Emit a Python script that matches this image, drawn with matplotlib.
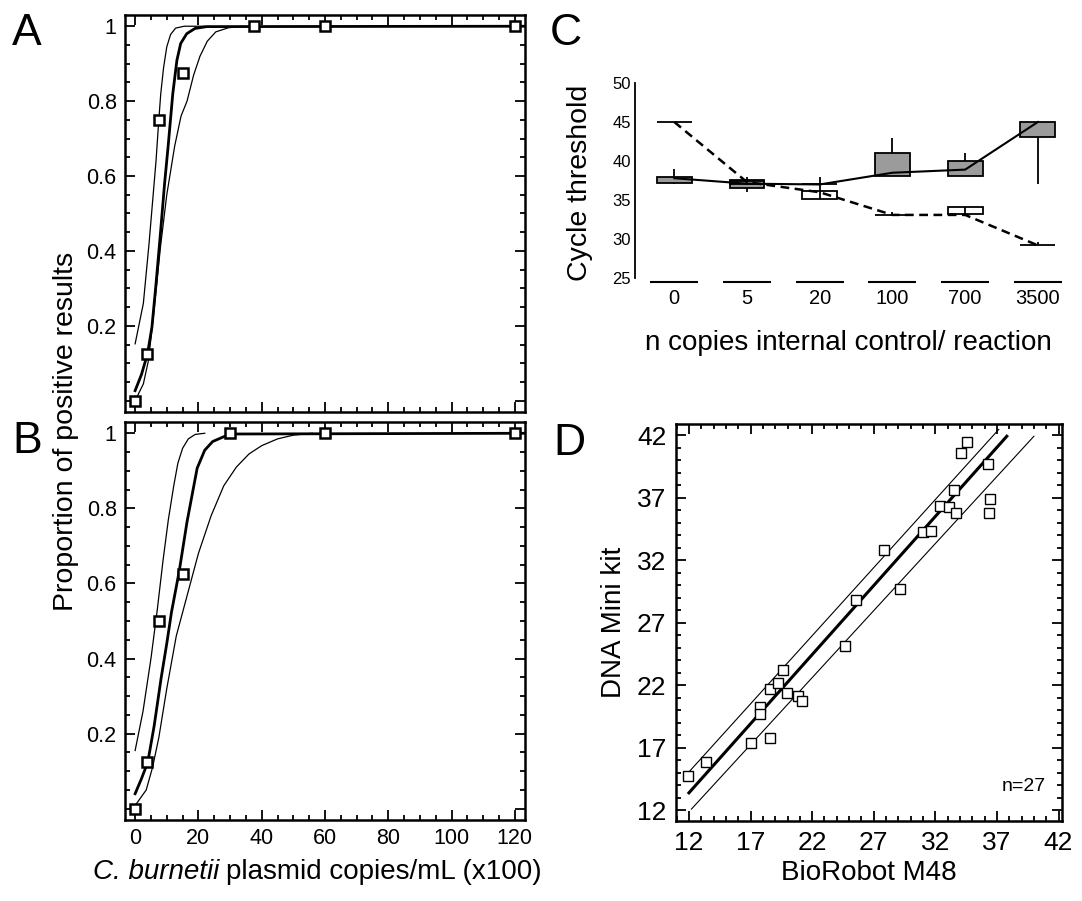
import matplotlib.pyplot as plt
import numpy as np
from matplotlib.ticker import MultipleLocator, FixedLocator, FixedFormatter

plt.rcParams['font.family'] = ['Liberation Sans', 'DejaVu Sans']

W, H = 1082, 901

# ---- panel A / B : proportion of positive results (probit fits)
a_dose = [0, 3.75, 7.5, 15, 37.5, 60, 120]
a_prop = [0, 0.125, 0.75, 0.875, 1, 1, 1]
a_mid_x = [0, 2, 3.9, 5.3, 6.6, 7.9, 9.3, 10.5, 11.9, 13.2, 14.4, 16.3, 18.9, 22.6, 124]
a_mid_y = [0.027, 0.07, 0.125, 0.196, 0.312, 0.437, 0.579, 0.686, 0.82, 0.909, 0.954, 0.98, 0.994, 0.999, 1.0]
a_up_x = [0, 2.6, 4.4, 5.6, 6.6, 7.4, 8.1, 9.0, 10.0, 11.2, 12.8, 15.5, 22]
a_up_y = [0.152, 0.26, 0.42, 0.54, 0.64, 0.74, 0.82, 0.89, 0.945, 0.978, 0.995, 1.0, 1.0]
a_lo_x = [0.5, 2.6, 4.2, 5.9, 8.0, 10.0, 12.5, 14.5, 16.4, 18.5, 20.5, 22.8, 25.5, 29.5, 34]
a_lo_y = [0.009, 0.045, 0.107, 0.235, 0.41, 0.55, 0.68, 0.76, 0.8, 0.87, 0.92, 0.96, 0.985, 0.996, 1.0]

b_dose = [0, 3.75, 7.5, 15, 30, 60, 120]
b_prop = [0, 0.125, 0.5, 0.625, 1, 1, 1]
b_mid_x = [0, 2, 4.0, 6.0, 8.2, 10.0, 11.5, 13.9, 16.4, 19.6, 22.0, 24.5, 30, 124]
b_mid_y = [0.04, 0.08, 0.124, 0.22, 0.347, 0.44, 0.524, 0.631, 0.764, 0.907, 0.955, 0.978, 0.998, 1.0]
b_up_x = [0, 2.5, 5.0, 7.0, 8.8, 10.5, 12.2, 13.5, 15.0, 16.8, 19.0, 22]
b_up_y = [0.155, 0.26, 0.40, 0.53, 0.66, 0.77, 0.86, 0.92, 0.96, 0.985, 0.997, 1.0]
b_lo_x = [0.3, 3.5, 5.5, 7.5, 10.0, 13.0, 16.5, 20.0, 24.0, 28.0, 32.0, 36.0, 40.0, 45.0, 50.0, 56.0]
b_lo_y = [0.012, 0.05, 0.11, 0.19, 0.32, 0.46, 0.57, 0.68, 0.78, 0.86, 0.91, 0.945, 0.967, 0.985, 0.995, 1.0]

# ---- panel C : cycle threshold box plots
c_cats = ['0', '5', '20', '100', '700', '3500']
grey_q1 = [37.15, 36.6, 37.0, 38.05, 38.05, 43.1]
grey_q3 = [38.0, 37.55, 37.0, 41.05, 40.0, 45.0]
grey_lo = [37.0, 36.05, 37.0, 38.05, 38.05, 37.0]
grey_hi = [39.0, 37.9, 37.0, 43.0, 41.0, 45.0]
grey_med = [37.8, 37.1, 37.0, 38.5, 38.9, 45.0]
white_q1 = [45.0, 37.0, 35.2, 33.1, 33.2, 29.2]
white_q3 = [45.0, 37.5, 36.2, 33.1, 34.15, 29.2]
white_lo = [45.0, 37.0, 35.2, 33.1, 33.2, 29.2]
white_hi = [45.0, 37.5, 37.9, 33.5, 34.15, 29.6]
white_med = [45.0, 37.3, 36.0, 33.1, 33.1, 29.2]

# ---- panel D : method comparison
d_m48 = [11.94, 13.39, 17.01, 18.62, 17.76, 17.76, 18.62, 19.20, 19.62, 19.92, 20.89, 21.17, 24.63, 25.60,
         27.82, 29.17, 31.0, 31.67, 32.39, 33.08, 33.69, 33.55, 34.05, 34.6, 36.24, 36.46, 36.35]
d_mini = [14.75, 15.87, 17.41, 17.81, 20.27, 19.68, 21.68, 22.21, 23.2, 21.41, 21.12, 20.72, 25.15, 28.8,
          32.8, 29.73, 34.21, 34.35, 36.35, 36.27, 35.79, 37.6, 40.59, 41.41, 39.68, 36.85, 35.79]
d_fit_x = [12.0, 37.8]
d_fit_y = [13.4, 41.9]
d_up_x = [12.0, 37.15]
d_up_y = [15.07, 42.45]
d_lo_x = [12.2, 40.0]
d_lo_y = [12.1, 41.9]


def rect(x0, y0, x1, y1):
    return [x0 / W, 1 - y1 / H, (x1 - x0) / W, (y1 - y0) / H]


fig = plt.figure(figsize=(W / 100, H / 100), dpi=100)

axA = fig.add_axes(rect(125, 15, 525, 412))
axB = fig.add_axes(rect(125, 422, 525, 820))

for ax, dose, prop, fits in [
        (axA, a_dose, a_prop, [(a_mid_x, a_mid_y), (a_up_x, a_up_y), (a_lo_x, a_lo_y)]),
        (axB, b_dose, b_prop, [(b_mid_x, b_mid_y), (b_up_x, b_up_y), (b_lo_x, b_lo_y)])]:
    ax.plot(fits[0][0], fits[0][1], color='black', lw=2.0)
    ax.plot(fits[1][0], fits[1][1], color='black', lw=0.9)
    ax.plot(fits[2][0], fits[2][1], color='black', lw=0.9)
    ax.plot(dose, prop, linestyle='none', marker='s', ms=7, mfc='white', mec='black', mew=1.8, clip_on=False, zorder=5)
    ax.set_xlim(-3.2, 123.2)
    ax.set_ylim(-0.03, 1.03)
    ax.xaxis.set_major_locator(MultipleLocator(20))
    ax.xaxis.set_minor_locator(MultipleLocator(5))
    ax.yaxis.set_major_locator(FixedLocator([0, 0.2, 0.4, 0.6, 0.8, 1.0]))
    ax.yaxis.set_major_formatter(FixedFormatter(['', '0.2', '0.4', '0.6', '0.8', '1']))
    ax.yaxis.set_minor_locator(MultipleLocator(0.05))
    ax.tick_params(which='both', direction='in', top=True, right=True, width=1.3, labelsize=15.5)
    ax.tick_params(which='major', length=7, pad=6)
    ax.tick_params(which='minor', length=3.5)
    for s in ax.spines.values():
        s.set_linewidth(1.8)

axA.tick_params(labelbottom=False)
# x label with the italic species name, two pieces side by side
t1 = fig.text(93 / W, 1 - 872 / H, 'C. burnetii', fontsize=20, style='italic', ha='left', va='center')
axB.annotate('plasmid copies/mL (x100)', xy=(1, 0.5), xycoords=t1, xytext=(5, 0),
             textcoords='offset points', fontsize=20, ha='left', va='center')
fig.text(66 / W, 1 - 431 / H, 'Proportion of positive results', rotation=90, fontsize=20.5,
         ha='center', va='center')

# ---- C
axC = fig.add_axes(rect(635, 79, 1067, 286))
pos = np.arange(len(c_cats))
bw = 0.48
gq1, gq3 = np.array(grey_q1), np.array(grey_q3)
wq1, wq3 = np.array(white_q1), np.array(white_q3)
axC.vlines(pos, grey_lo, grey_hi, color='black', lw=1.3, zorder=1)
axC.bar(pos, gq3 - gq1, bw, bottom=gq1, color='#9b9b9b', edgecolor='black', lw=1.3, zorder=2)
axC.bar(pos, wq3 - wq1, bw, bottom=wq1, color='none', edgecolor='black', lw=1.3, zorder=3)
axC.vlines(pos, white_lo, white_hi, color='black', lw=1.3, zorder=3)
axC.plot(pos, grey_med, color='black', lw=1.5, zorder=4)
axC.plot(pos, white_med, color='black', lw=1.8, dashes=(3.5, 2.2), zorder=4)
axC.hlines(np.full(len(pos), 24.5), pos - 0.33, pos + 0.33, color='black', lw=1.5, clip_on=False)
axC.set_xlim(-0.54, 5.4)
axC.set_ylim(24, 50.5)
axC.set_yticks(range(25, 51, 5))
axC.set_xticks(pos, c_cats)
axC.tick_params(axis='y', length=0, pad=3, labelsize=12)
axC.tick_params(axis='x', length=0, pad=2, labelsize=14.5)
for s in ['top', 'right', 'bottom']:
    axC.spines[s].set_visible(False)
axC.spines['left'].set_bounds(25, 50)
axC.spines['left'].set_linewidth(1.3)
fig.text(580 / W, 1 - 183 / H, 'Cycle threshold', rotation=90, fontsize=20.5, ha='center', va='center')
fig.text(848 / W, 1 - 343 / H, 'n copies internal control/ reaction', fontsize=20, ha='center', va='center')

# ---- D
axD = fig.add_axes(rect(676, 424, 1062, 821))
axD.plot(d_fit_x, d_fit_y, color='black', lw=2.2)
axD.plot(d_up_x, d_up_y, color='black', lw=0.8)
axD.plot(d_lo_x, d_lo_y, color='black', lw=0.8)
axD.plot(d_m48, d_mini, linestyle='none', marker='s', ms=7.5, mfc='white', mec='black', mew=1.0, zorder=5)
axD.set_xlim(10.95, 42.28)
axD.set_ylim(11.15, 42.88)
axD.xaxis.set_major_locator(FixedLocator(range(12, 43, 5)))
axD.yaxis.set_major_locator(FixedLocator(range(12, 43, 5)))
axD.xaxis.set_minor_locator(MultipleLocator(1))
axD.yaxis.set_minor_locator(MultipleLocator(1))
axD.tick_params(which='both', direction='in', top=True, right=True, width=1.3, labelsize=19)
axD.tick_params(which='major', length=7, pad=7)
axD.tick_params(which='minor', length=3.5)
for s in axD.spines.values():
    s.set_linewidth(1.8)
axD.text(41.0, 13.9, 'n=27', fontsize=14, ha='right', va='center')
axD.set_xlabel('BioRobot M48', fontsize=20, labelpad=4)
axD.set_ylabel('DNA Mini kit', fontsize=20, labelpad=7)

for letter, x, y in [('A', 12, 13), ('B', 12, 421), ('C', 550, 13), ('D', 553, 423)]:
    fig.text(x / W, 1 - y / H, letter, fontsize=32, ha='left', va='top')

fig.savefig('out.png', dpi=100)
